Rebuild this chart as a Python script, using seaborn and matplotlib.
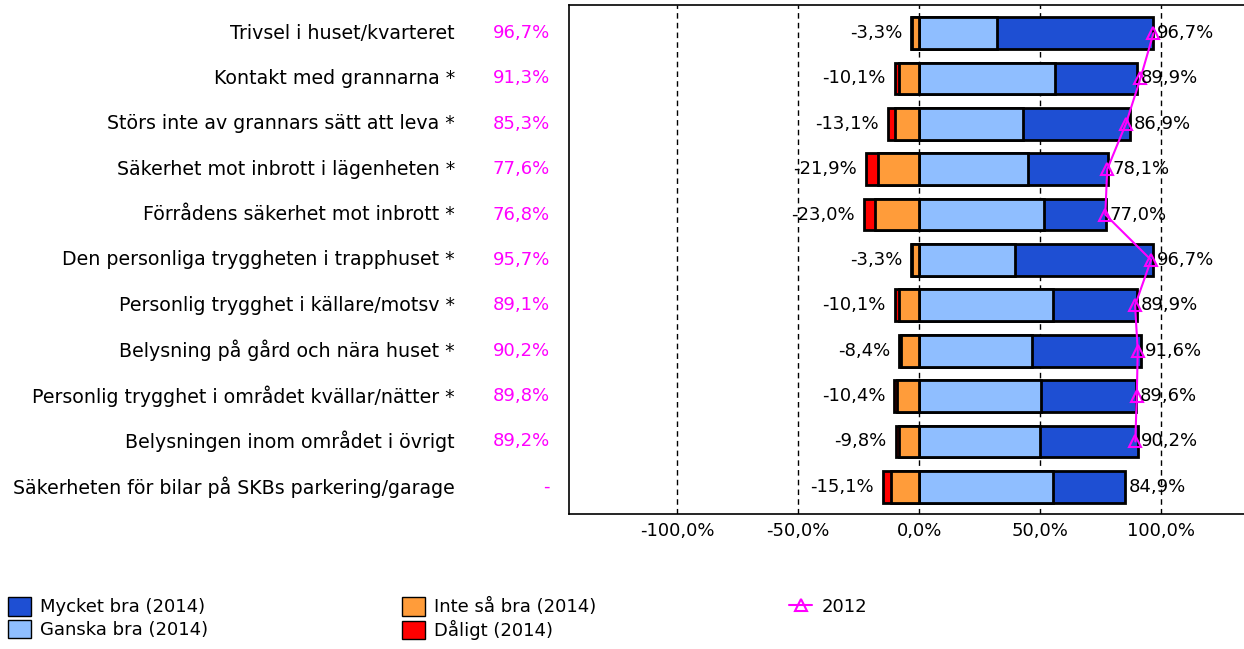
import numpy as np
import pandas as pd
import matplotlib.pyplot as plt
import seaborn as sns
from matplotlib.patches import Patch
from matplotlib.lines import Line2D
from matplotlib.transforms import blended_transform_factory

# Data
categories = [
    "Trivsel i huset/kvarteret",
    "Kontakt med grannarna *",
    "Störs inte av grannars sätt att leva *",
    "Säkerhet mot inbrott i lägenheten *",
    "Förrådens säkerhet mot inbrott *",
    "Den personliga tryggheten i trapphuset *",
    "Personlig trygghet i källare/motsv *",
    "Belysning på gård och nära huset *",
    "Personlig trygghet i området kvällar/nätter *",
    "Belysningen inom området i övrigt",
    "Säkerheten för bilar på SKBs parkering/garage",
]
ganska_bra = [32.0, 56.0, 42.9, 44.9, 51.3, 39.7, 55.0, 46.7, 50.3, 49.8, 55.4]
mycket_bra = [64.7, 33.9, 44.0, 33.2, 25.7, 57.0, 34.9, 44.9, 39.3, 40.4, 29.5]
inte_sa_bra = [3.0, 8.6, 10.1, 16.9, 18.5, 3.0, 8.3, 7.6, 9.4, 8.6, 11.6]
daligt = [0.3, 1.5, 3.0, 5.0, 4.5, 0.3, 1.8, 0.8, 1.0, 1.2, 3.5]
total_2012 = [96.7, 91.3, 85.3, 77.6, 76.8, 95.7, 89.1, 90.2, 89.8, 89.2, np.nan]

df = pd.DataFrame({
    "Kategori": categories,
    "Ganska": ganska_bra,
    "Mycket": mycket_bra,
    "Inte": inte_sa_bra,
    "Daligt": daligt,
    "T2012": total_2012,
})
df["Positiv"] = df["Ganska"] + df["Mycket"]
df["Negativ"] = -(df["Inte"] + df["Daligt"])
df["InteNeg"] = -df["Inte"]

c_mycket = "#1E4FD3"
c_ganska = "#8FBEFF"
c_inte = "#FF9C3A"
c_daligt = "#FF0000"
c_2012 = "#FF00FF"
fs = 13


def pct(v):
    return f"{v:.1f}%".replace(".", ",")


sns.set_style("white")
plt.rcParams["font.family"] = ["DejaVu Sans"]
plt.rcParams["font.size"] = fs
for key in ["text.color", "axes.labelcolor", "xtick.color", "ytick.color"]:
    plt.rcParams[key] = "black"

fig = plt.figure(figsize=(12.44, 6.49), dpi=100)
ax = fig.add_axes([569 / 1244, 1 - 514 / 649, 676 / 1244, 509 / 649])

bar_kw = dict(orient="h", edgecolor="black", linewidth=2, width=0.7,
              errorbar=None, saturation=1, ax=ax, zorder=3)
# staplade staplar genom att lägga dem över varandra
sns.barplot(data=df, x="Positiv", y="Kategori", color=c_mycket, **bar_kw)
sns.barplot(data=df, x="Ganska", y="Kategori", color=c_ganska, **bar_kw)
sns.barplot(data=df, x="Negativ", y="Kategori", color=c_daligt, **bar_kw)
sns.barplot(data=df, x="InteNeg", y="Kategori", color=c_inte, **bar_kw)

pos = np.arange(len(categories))
ax.plot(df["T2012"], pos, color=c_2012, marker="^", markersize=8,
        markerfacecolor="none", markeredgewidth=1.5, linewidth=1.5, zorder=5)

# etiketter vid staplarnas ändar
for i, row in df.iterrows():
    ax.text(row["Negativ"] - 3.7, i, "-" + pct(-row["Negativ"]),
            ha="right", va="center", fontsize=fs, zorder=6)
    ax.text(row["Positiv"] + 1.5, i, pct(row["Positiv"]),
            ha="left", va="center", fontsize=fs, zorder=6)

# 2012-värden i magenta
trans = blended_transform_factory(fig.transFigure, ax.transData)
for i, v in enumerate(total_2012):
    txt = "-" if np.isnan(v) else pct(v)
    ax.text(550 / 1244, i, txt, transform=trans, ha="right", va="center",
            color=c_2012, fontsize=fs, clip_on=False)

ticks = [-100, -50, 0, 50, 100]
for t in ticks:
    ax.axvline(t, color="black", linestyle=(0, (4, 3)), linewidth=1, zorder=1)
ax.set_xticks(ticks)
ax.set_xticklabels([pct(t) for t in ticks])
ax.set_xlim(-144.7, 134.5)
ax.set_ylim(10.6, -0.62)
ax.set_xlabel("")
ax.set_ylabel("")
ax.tick_params(axis="y", length=0, pad=82, labelsize=13.7)
ax.tick_params(axis="x", length=0, pad=6, labelsize=fs)
for lab in ax.get_yticklabels():
    lab.set_verticalalignment("center")
for side in ["top", "left", "bottom"]:
    ax.spines[side].set_visible(True)
    ax.spines[side].set_color("black")
    ax.spines[side].set_linewidth(1.2)
ax.spines["right"].set_visible(False)

# legend i tre kolumner
leg_kw = dict(frameon=False, loc="upper left", borderpad=0, borderaxespad=0,
              handlelength=1.3, handleheight=1.2, labelspacing=0.2,
              handletextpad=0.5, fontsize=fs)
h1 = [Patch(facecolor=c_mycket, edgecolor="black", label="Mycket bra (2014)"),
      Patch(facecolor=c_ganska, edgecolor="black", label="Ganska bra (2014)")]
h2 = [Patch(facecolor=c_inte, edgecolor="black", label="Inte så bra (2014)"),
      Patch(facecolor=c_daligt, edgecolor="black", label="Dåligt (2014)")]
h3 = [Line2D([], [], color=c_2012, marker="^", markersize=8, markerfacecolor="none",
             markeredgewidth=1.5, linewidth=1.5, label="2012")]
fig.legend(handles=h1, bbox_to_anchor=(8 / 1244, 1 - 597 / 649), **leg_kw)
fig.legend(handles=h2, bbox_to_anchor=(402 / 1244, 1 - 597 / 649), **leg_kw)
fig.legend(handles=h3, bbox_to_anchor=(789 / 1244, 1 - 597 / 649), **leg_kw)

fig.savefig("out.png", dpi=100)
